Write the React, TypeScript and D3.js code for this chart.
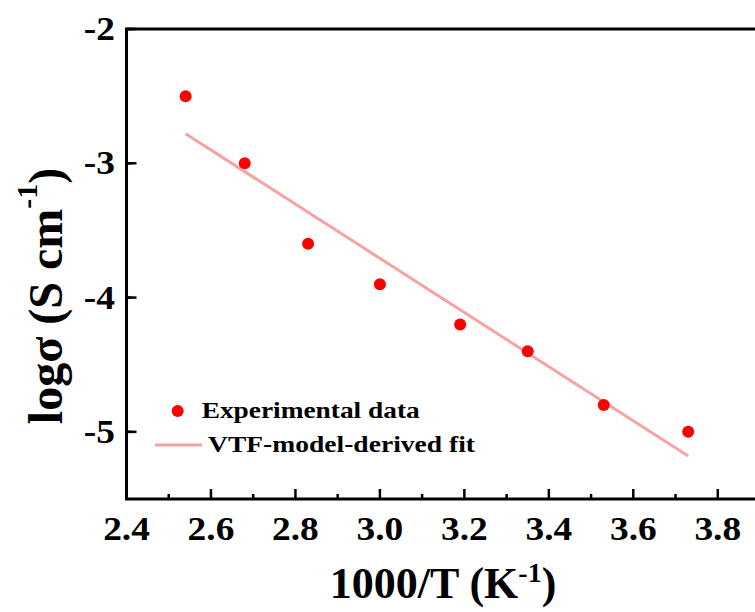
import React from 'react'
import * as d3 from 'd3'

// values
const tempInv = [2.54, 2.68, 2.83, 3.0, 3.19, 3.35, 3.53, 3.73]
const logSigma = [-2.5, -3.0, -3.6, -3.9, -4.2, -4.4, -4.8, -5.0]
const fitX = [2.54, 3.73]
const fitY = [-2.78, -5.18]
const xTicks = [2.4, 2.6, 2.8, 3.0, 3.2, 3.4, 3.6, 3.8]
const yTicks = [-2, -3, -4, -5]
const legendLabels = ['Experimental data', 'VTF-model-derived fit']

const W = 755
const H = 612
const left = 126.5
const top = 29
const bottom = 499
const right = 760
const font = "'Liberation Serif', 'Times New Roman', Times, serif"

export default function App() {
  const x = d3.scaleLinear().domain([2.4, 3.9]).range([left, right])
  const y = d3.scaleLinear().domain([-5.5, -2]).range([bottom, top])

  const xMinor = d3.range(2.5, 3.9, 0.2)
  const yMinor = d3.range(-5.5, -2, 1).map(v => v + 0.5)

  const fitLine = d3.line<number>()
    .x(d => x(d))
    .y((d, i) => y(fitY[i]))

  return (
    <svg width={W} height={H}
      style={{position: 'absolute', left: 0, top: 0, background: '#fff', fontFamily: font, fontWeight: 'bold'}}>
      {/* frame */}
      <rect x={left} y={top} width={right - left} height={bottom - top}
        fill="none" stroke="#000" strokeWidth={3} />

      {/* x ticks */}
      {xTicks.map(t => (
        <g key={'xt' + t}>
          <line x1={x(t)} x2={x(t)} y1={bottom} y2={bottom - 10} stroke="#000" strokeWidth={2.5} />
          <text transform={`translate(${x(t)},540) scale(1.1,1)`} textAnchor="middle" fontSize={34}>
            {t.toFixed(1)}
          </text>
        </g>
      ))}
      {xMinor.map(t => (
        <line key={'xm' + t} x1={x(t)} x2={x(t)} y1={bottom} y2={bottom - 5} stroke="#000" strokeWidth={2.5} />
      ))}

      {/* y ticks */}
      {yTicks.map(t => (
        <g key={'yt' + t}>
          <line x1={left} x2={left + 10} y1={y(t)} y2={y(t)} stroke="#000" strokeWidth={2.5} />
          <text transform={`translate(115,${y(t) + 11}) scale(1.1,1)`} textAnchor="end" fontSize={34}>
            {t}
          </text>
        </g>
      ))}
      {yMinor.map(t => (
        <line key={'ym' + t} x1={left} x2={left + 5} y1={y(t)} y2={y(t)} stroke="#000" strokeWidth={2.5} />
      ))}

      {/* fit line */}
      <path d={fitLine(fitX) || ''} fill="none" stroke="#f5a3a3" strokeWidth={3} />

      {/* data points */}
      {tempInv.map((v, i) => (
        <circle key={'p' + i} cx={x(v)} cy={y(logSigma[i])} r={6} fill="#ff0000" />
      ))}

      {/* legend */}
      <circle cx={177.7} cy={411} r={6} fill="#ff0000" />
      <text x={201.7} y={418} fontSize={24} textLength={218} lengthAdjust="spacingAndGlyphs">{legendLabels[0]}</text>
      <line x1={155} x2={202} y1={445} y2={445} stroke="#f5a3a3" strokeWidth={3} />
      <text x={208} y={452} fontSize={24} textLength={267} lengthAdjust="spacingAndGlyphs">{legendLabels[1]}</text>

      {/* axis titles */}
      <text x={443} y={598} textAnchor="middle" fontSize={44}>
        1000/T (K<tspan fontSize={28} dy={-16}>-1</tspan><tspan dy={16}>)</tspan>
      </text>
      <text transform="translate(62,296) rotate(-90)" textAnchor="middle" fontSize={48}>
        logσ (S cm<tspan fontSize={30} dy={-25}>-1</tspan><tspan dy={25}>)</tspan>
      </text>
    </svg>
  )
}
